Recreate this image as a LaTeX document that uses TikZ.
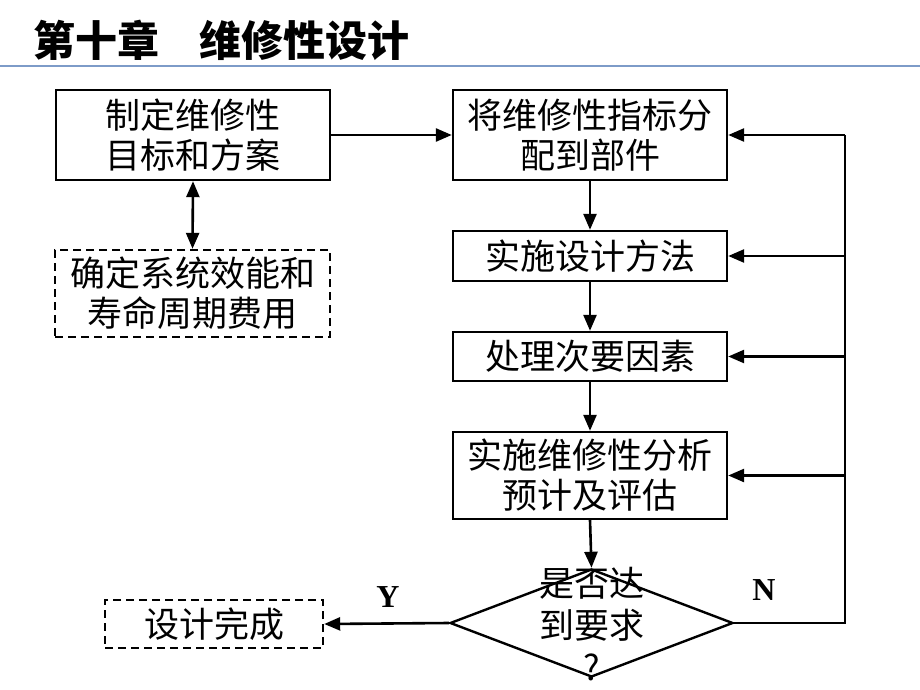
\documentclass[tikz,border=0pt]{standalone}
\usepackage{fontspec}
\newfontfamily\cjk{Noto Sans CJK SC}
\newfontfamily\lat{Liberation Serif}
\usetikzlibrary{arrows.meta,shapes.geometric}
\definecolor{rule}{RGB}{125,155,200}
\tikzset{
  box/.style={draw, line width=2.4pt, minimum width=274pt, inner sep=0pt, align=center,
    font=\cjk\fontsize{35}{40}\selectfont},
  dbox/.style={box, dash pattern=on 8pt off 5pt},
  arr/.style={line width=2.6pt, -{Triangle[length=16pt,width=13pt]}},
  darr/.style={line width=2.6pt, {Triangle[length=16pt,width=13pt]}-{Triangle[length=16pt,width=13pt]}},
  ln/.style={line width=2.6pt},
  yn/.style={font=\lat\bfseries\fontsize{32}{34}\selectfont}
}
\begin{document}
\begin{tikzpicture}[x=1pt,y=-1pt]
\useasboundingbox (0,0) rectangle (920,690);
\node[anchor=west, inner sep=0pt, font=\cjk\bfseries\fontsize{42}{44}\selectfont] (title) at (33,40) {第十章\hspace{40pt}维修性设计};
\draw[rule, line width=2.5pt] (0,66) -- (920,66);

\node[box, minimum height=90pt] (A) at (193,135) {制定维修性\\目标和方案};
\node[dbox, minimum width=275pt, minimum height=87pt] (B) at (192.5,293.5) {确定系统效能和\\寿命周期费用};
\node[box, minimum height=90pt] (C) at (590,135) {将维修性指标分\\配到部件};
\node[box, minimum height=50pt] (D) at (590,256) {实施设计方法};
\node[box, minimum height=49pt] (E) at (590,356.5) {处理次要因素};
\node[box, minimum height=87pt] (F) at (590,475.5) {实施维修性分析\\预计及评估};
\node[draw, diamond, line width=2.4pt, minimum width=283pt, minimum height=108pt, inner sep=0pt] (dia) at (591.5,623) {};
\node[align=center, inner sep=0pt, font=\cjk\fontsize{35}{42}\selectfont] (dtext) at (591.5,624) {是否达\\到要求\\?};
\node[dbox, minimum width=218pt, minimum height=48pt] (G) at (214,624) {设计完成};

\coordinate (n0) at (845,623);
\coordinate (n1) at (845,135);
\coordinate (n2) at (845,256);
\coordinate (n3) at (845,356.5);
\coordinate (n4) at (845,475.5);

\draw[arr] (A.east) -- (C.west);
\draw[darr] (A.south) -- (B.north);
\draw[arr] (C.south) -- (D.north);
\draw[arr] (D.south) -- (E.north);
\draw[arr] (E.south) -- (F.north);
\draw[arr] (F.south) -- (dia.north);
\draw[arr] (dia.west) -- (G.east);
\draw[ln] (dia.east) -- (n0) -- (n1);
\draw[arr] (n1) -- (C.east);
\draw[arr] (n2) -- (D.east);
\draw[arr] (n3) -- (E.east);
\draw[arr] (n4) -- (F.east);

\node[yn] (Y) at (388,597) {Y};
\node[yn] (N) at (764,590) {N};
\end{tikzpicture}
\end{document}
